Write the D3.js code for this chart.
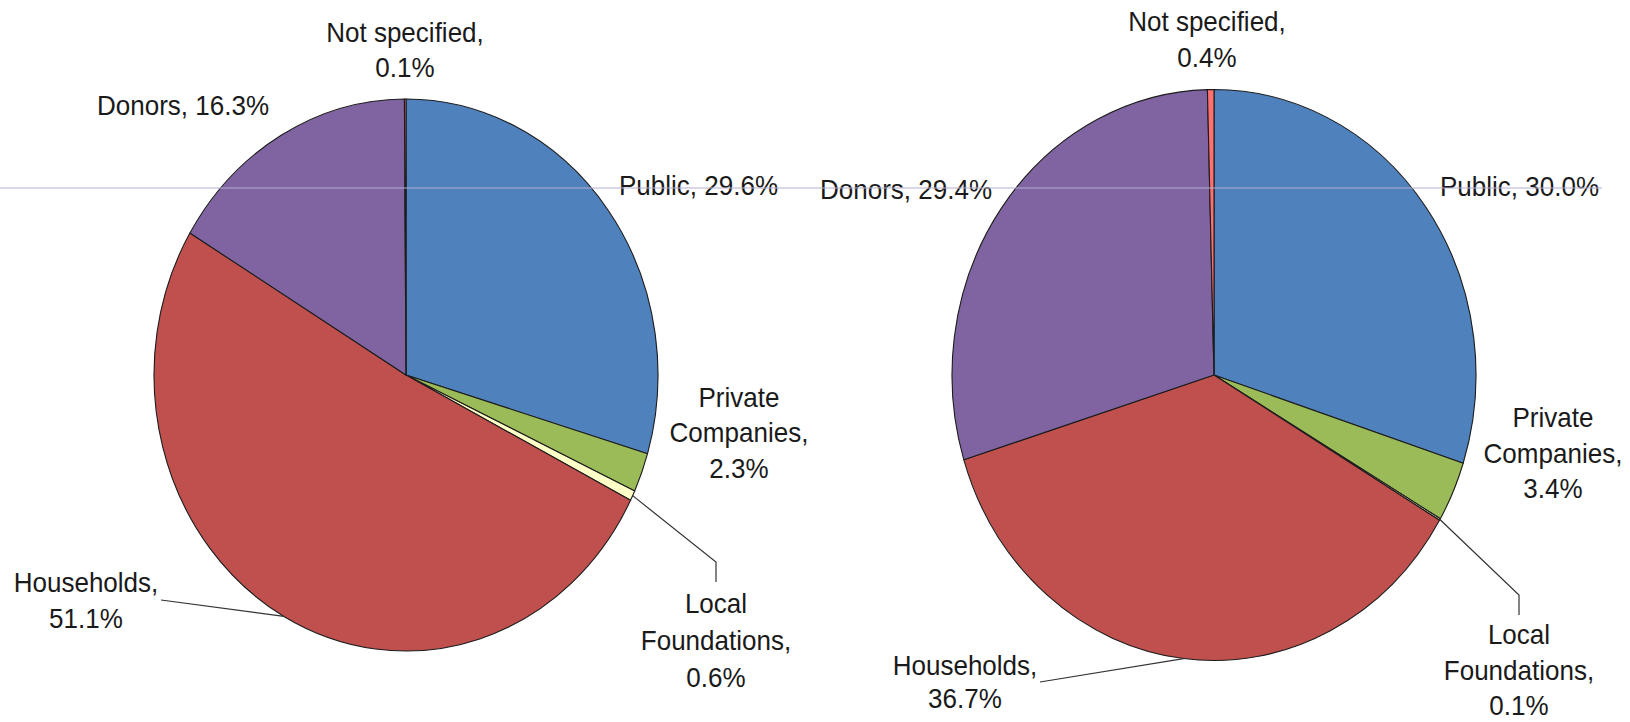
<!DOCTYPE html>
<html>
<head>
<meta charset="utf-8">
<script src="https://cdn.jsdelivr.net/npm/d3@7/dist/d3.min.js"></script>
<style>
  html, body { margin: 0; padding: 0; background: #ffffff; }
  svg { display: block; }
  text { font-family: "Liberation Sans", Arial, sans-serif; fill: #1a1a1a; }
</style>
</head>
<body>
<svg id="chart" width="1630" height="722"></svg>
<script>
// Funding sources, in slice order (clockwise from 12 o'clock)
const categories = ["Public", "Private Companies", "Local Foundations", "Households", "Donors", "Not specified"];
const leftValues  = [29.6, 2.3, 0.6, 51.1, 16.3, 0.1];
const rightValues = [30.0, 3.4, 0.1, 36.7, 29.4, 0.4];
// How each category name is broken over label lines
const nameLines = [["Public,"], ["Private", "Companies,"], ["Local", "Foundations,"], ["Households,"], ["Donors,"], ["Not specified,"]];
const inlineValue = [true, false, false, false, true, false];
const sliceColors = ["#4f81bd", "#9bbb59", "#ffffc8", "#c0504d", "#8064a2", "#ff7070"];

// Layout of each pie and its labels
const pies = [
  {
    values: leftValues, cx: 406, cy: 375, rx: 252, ry: 276,
    labels: [
      { x: 619, ys: [195], anchor: "start" },
      { x: 739, ys: [407, 442, 478], anchor: "middle" },
      { x: 716, ys: [613, 650, 687], anchor: "middle", leader: [[716, 562], [716, 582]] },
      { x: 86,  ys: [592, 628], anchor: "middle", leader: [[161, 600]] },
      { x: 97,  ys: [115], anchor: "start" },
      { x: 405, ys: [42, 77], anchor: "middle" }
    ]
  },
  {
    values: rightValues, cx: 1214, cy: 375, rx: 262, ry: 285.5,
    labels: [
      { x: 1440, ys: [196], anchor: "start" },
      { x: 1553, ys: [427, 463, 498], anchor: "middle" },
      { x: 1519, ys: [644, 680, 715], anchor: "middle", leader: [[1519, 595], [1519, 615]] },
      { x: 965,  ys: [675, 708], anchor: "middle", leader: [[1040, 682]] },
      { x: 820,  ys: [199], anchor: "start" },
      { x: 1207, ys: [31, 67], anchor: "middle" }
    ]
  }
];

const svg = d3.select("#chart");
const R = 100;            // unit radius; each pie is stretched to its own rx/ry
const textSqueeze = 0.93; // horizontal condensing of label type
const fontSize = 28;

const pieGen = d3.pie().sort(null).value(d => d);
const arcGen = d3.arc().innerRadius(0).outerRadius(R);

pies.forEach(p => {
  const arcs = pieGen(p.values);
  const sx = p.rx / R, sy = p.ry / R;

  const g = svg.append("g")
    .attr("transform", `translate(${p.cx},${p.cy}) scale(${sx},${sy})`);

  g.selectAll("path")
    .data(arcs)
    .join("path")
    .attr("d", arcGen)
    .attr("fill", (d, i) => sliceColors[i])
    .attr("stroke", "#1c1c1c")
    .attr("stroke-width", 1.1)
    .attr("stroke-linejoin", "round")
    .attr("vector-effect", "non-scaling-stroke");

  // Leader lines start on the slice rim at the slice's mid angle
  arcs.forEach((a, i) => {
    const lab = p.labels[i];
    if (!lab.leader) return;
    const mid = (a.startAngle + a.endAngle) / 2;
    const start = [p.cx + p.rx * Math.sin(mid), p.cy - p.ry * Math.cos(mid)];
    const pts = lab.leader[0][0] < start[0] ? [...lab.leader].reverse().concat([start]) : [start, ...lab.leader];
    svg.append("path")
      .attr("d", d3.line()(pts))
      .attr("fill", "none")
      .attr("stroke", "#333333")
      .attr("stroke-width", 1.2);
  });

  // Labels
  arcs.forEach((a, i) => {
    const lab = p.labels[i];
    const valueText = d3.format(".1f")(p.values[i]) + "%";
    let lines = nameLines[i].slice();
    if (inlineValue[i]) lines[lines.length - 1] += " " + valueText;
    else lines.push(valueText);
    lines.forEach((line, k) => {
      svg.append("text")
        .attr("transform", `translate(${lab.x},${lab.ys[k]}) scale(${textSqueeze},1)`)
        .attr("text-anchor", lab.anchor)
        .attr("font-size", fontSize)
        .text(line);
    });
  });
});

// Thin rule running across the figure
svg.append("line")
  .attr("x1", 0).attr("x2", 1602)
  .attr("y1", 188).attr("y2", 188)
  .attr("stroke", "#b4b0d0")
  .attr("stroke-width", 1.2);
</script>
</body>
</html>
